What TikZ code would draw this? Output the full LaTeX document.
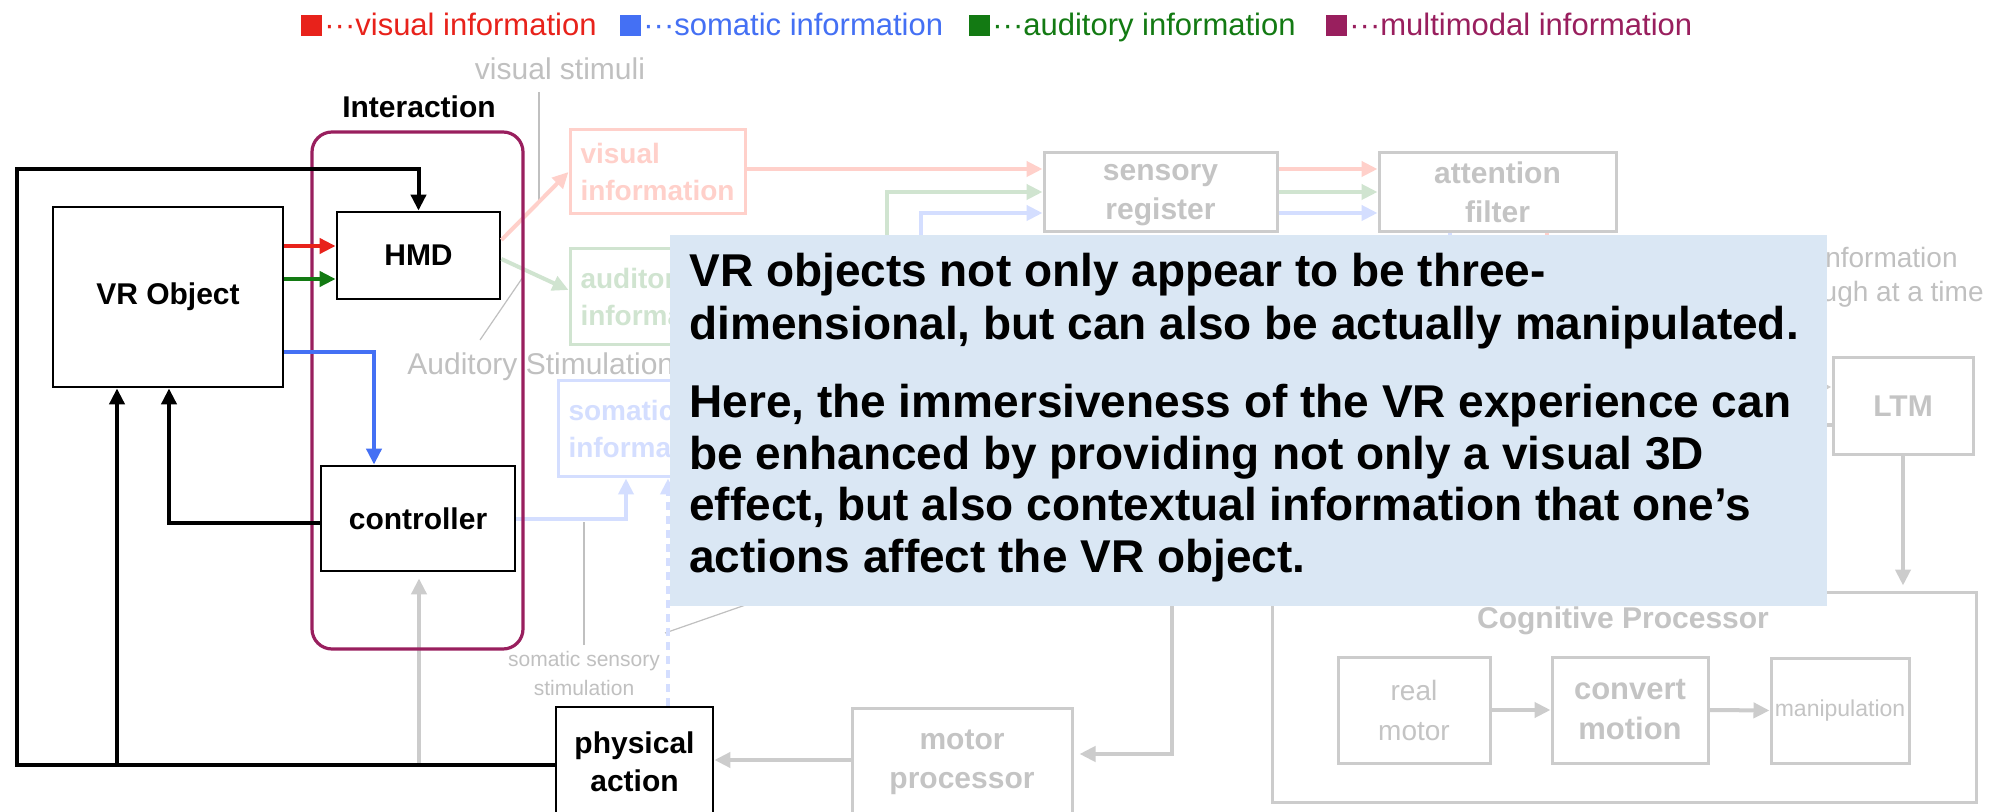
\documentclass[tikz,border=0pt]{standalone}
\usepackage{fontspec}
\setmainfont{Liberation Sans}
\usetikzlibrary{arrows.meta,calc}
\definecolor{vred}{HTML}{E8221B}
\definecolor{vblue}{HTML}{4470F4}
\definecolor{vgreen}{HTML}{137A13}
\definecolor{vpurple}{HTML}{991F5E}
\definecolor{pinkf}{HTML}{FFD0CA}
\definecolor{greenf}{HTML}{D0E4D0}
\definecolor{bluef}{HTML}{D4DEFF}
\definecolor{grayln}{HTML}{CCCCCC}
\definecolor{graytx}{HTML}{C4C4C4}
\definecolor{thinln}{HTML}{C0C0C0}
\definecolor{callfill}{HTML}{DAE7F4}
\begin{document}
\begin{tikzpicture}[x={(0.5pt,0)}, y={(0,-0.5pt)},
  >={Triangle[length=8pt,width=7.5pt]},
  blk/.style={draw=black, line width=1.4pt, inner sep=0pt, align=center,
    font=\bfseries\fontsize{15}{19}\selectfont},
  gbox/.style={draw=grayln, line width=1.5pt, inner sep=0pt, align=center,
    text=graytx, font=\bfseries\fontsize{15}{19.5}\selectfont},
  infobox/.style={line width=1.5pt, inner sep=0pt, align=left,
    font=\bfseries\fontsize{14}{18.5}\selectfont},
  sq/.style={minimum size=10.5pt, inner sep=0pt},
  lg/.style={inner sep=0pt, font=\fontsize{15.5}{18}\selectfont},
  glabel/.style={inner sep=0pt, text=thinln, font=\fontsize{15}{18}\selectfont},
  bconn/.style={line width=2pt, ->},
  fconn/.style={line width=2pt, ->},
  gconn/.style={line width=2pt, grayln, ->},
  thinl/.style={line width=0.6pt, thinln},
  ctext/.style={anchor=base west, inner sep=0pt, font=\bfseries\fontsize{23}{26}\selectfont}]
\clip (0,0) rectangle (2003,812);
\fill[white] (0,0) rectangle (2003,812);

% ---------- legend ----------
\node[sq, fill=vred] (sqv) at (311,25.5) {};
\node[lg, text=vred, anchor=base west] (lgv) at (324,36) {···visual information};
\node[sq, fill=vblue] (sqs) at (630.5,25.5) {};
\node[lg, text=vblue, anchor=base west] (lgs) at (643,36) {···somatic information};
\node[sq, fill=vgreen] (sqa) at (979.5,25.5) {};
\node[lg, text=vgreen, anchor=base west] (lga) at (992,36) {···auditory information};
\node[sq, fill=vpurple] (sqm) at (1336.5,25.5) {};
\node[lg, text=vpurple, anchor=base west] (lgm) at (1349,36) {···multimodal information};

% ---------- faded labels ----------
\node[glabel, anchor=base] (vstim) at (560,80) {visual stimuli};
\node[glabel, anchor=base west] (astim) at (407,375) {Auditory Stimulation};
\node[glabel, align=center, font=\fontsize{10.5}{14.5}\selectfont] (sstim) at (584,673) {somatic sensory\\stimulation};
\node[glabel, anchor=base east, font=\fontsize{14}{17}\selectfont] (inf1) at (1958,268) {information};
\node[glabel, anchor=base east, font=\fontsize{14}{17}\selectfont] (inf2) at (1984,302) {through at a time};

\coordinate (vs1) at (539,92);
\coordinate (vs2) at (539,204);
\draw[thinl] (vs1) -- (vs2);
\coordinate (as1) at (480,340);
\coordinate (as2) at (523,277);
\draw[thinl] (as1) -- (as2);
\coordinate (ss1) at (584,645);
\coordinate (ss2) at (584,522);
\draw[thinl] (ss1) -- (ss2);
\coordinate (dg1) at (665,633);
\coordinate (dg2) at (780,593);
\draw[thinl] (dg1) -- (dg2);

% ---------- black boxes ----------
\node[blk, minimum width=115pt, minimum height=90pt] (vro) at (168,297) {VR Object};
\node[blk, minimum width=81.5pt, minimum height=43.5pt] (hmd) at (418.5,255.5) {HMD};
\node[blk, minimum width=97pt, minimum height=52.5pt] (ctrl) at (418,518.5) {controller};
\node[blk, minimum width=78.5pt, minimum height=54.5pt] (phys) at (634.5,761.5) {physical\\action};

% ---------- faded boxes ----------
\node[infobox, draw=pinkf, text=pinkf, minimum width=87.5pt, minimum height=42pt] (visinfo) at (657.5,172) {visual\\information};
\node[infobox, draw=greenf, text=greenf, minimum width=87.5pt, minimum height=48pt] (audinfo) at (657.5,297) {auditory\\information};
\node[infobox, draw=bluef, text=bluef, minimum width=87.5pt, minimum height=48pt] (sominfo) at (645.5,429) {somatic\\information};
\node[gbox, minimum width=116.5pt, minimum height=39.5pt] (sensreg) at (1160.5,192.5) {\vphantom{l}sensory\\register};
\node[gbox, minimum width=118.5pt, minimum height=39.5pt] (attfilt) at (1497.5,192.5) {attention\\filter};
\node[gbox, minimum width=70pt, minimum height=48.5pt] (ltm) at (1903,406.5) {LTM};
\node[gbox, minimum width=352pt, minimum height=105pt] (cog) at (1624,697) {};
\node[inner sep=0pt, anchor=base, text=graytx, font=\bfseries\fontsize{15}{18}\selectfont] (coglbl) at (1623,628) {Cognitive Processor};
\node[gbox, font=\fontsize{14}{20}\selectfont, minimum width=76pt, minimum height=53pt] (realm) at (1414,710) {real\\motor};
\node[gbox, font=\bfseries\fontsize{15.5}{20}\selectfont, minimum width=78pt, minimum height=53pt] (convm) at (1630,710) {convert\\motion};
\node[gbox, font=\fontsize{11.5}{14}\selectfont, minimum width=69pt, minimum height=52.5pt] (manip) at (1840,710.5) {manipulation};
\node[gbox, minimum width=110pt, minimum height=54pt] (motor) at (962,762) {motor\\processor};

% ---------- faded connectors ----------
\coordinate (ya) at (0,240);
\coordinate (yb) at (0,259);
\coordinate (yc) at (0,290);
\draw[fconn, pinkf] (hmd.east |- ya) -- (visinfo.west);
\draw[fconn, greenf] (hmd.east |- yb) -- (audinfo.west |- yc);
\coordinate (ys1) at (0,169);
\coordinate (ys2) at (0,192);
\coordinate (ys3) at (0,213);
\coordinate (xg1) at (887,0);
\coordinate (xb1) at (921,0);
\draw[fconn, pinkf] (visinfo.east |- ys1) -- (sensreg.west |- ys1);
\draw[fconn, greenf] (audinfo.east) -- (xg1 |- audinfo.east) -- (xg1 |- ys2) -- (sensreg.west |- ys2);
\draw[fconn, bluef] (sominfo.east) -- (xb1 |- sominfo.east) -- (xb1 |- ys3) -- (sensreg.west |- ys3);
\draw[fconn, pinkf] (sensreg.east |- ys1) -- (attfilt.west |- ys1);
\draw[fconn, greenf] (sensreg.east |- ys2) -- (attfilt.west |- ys2);
\draw[fconn, bluef] (sensreg.east |- ys3) -- (attfilt.west |- ys3);
\coordinate (xa1) at (1450,300);
\coordinate (xa2) at (1547,300);
\draw[line width=2pt, bluef] (attfilt.south -| xa1) -- (xa1);
\draw[line width=2pt, pinkf] (attfilt.south -| xa2) -- (xa2);

\coordinate (ysm) at (0,519);
\coordinate (xs1) at (626,0);
\coordinate (xd) at (668,0);
\coordinate (ym) at (0,760);
\coordinate (ym2) at (0,754);
\coordinate (mv) at (1172,560);
\coordinate (xl) at (1790,0);
\coordinate (yl1) at (0,387);
\coordinate (yl2) at (0,425);
\draw[fconn, bluef] (ctrl.east |- ysm) -- (xs1 |- ysm) -- (xs1 |- sominfo.south);
\draw[fconn, bluef, dash pattern=on 4pt off 3pt] (phys.north -| xd) -- (xd |- sominfo.south);
\draw[gconn] (motor.west |- ym) -- (phys.east |- ym);
\draw[gconn, shorten >=3pt] (mv) -- (mv |- ym2) -- (motor.east |- ym2);
\draw[gconn] (xl |- yl1) -- (ltm.west |- yl1);
\draw[gconn] (ltm.west |- yl2) -- (xl |- yl2);
\draw[gconn, shorten >=2.5pt] (ltm.south) -- (cog.north -| ltm.south);
\draw[gconn] (realm.east) -- (convm.west);
\draw[gconn] (convm.east) -- (manip.west);

\coordinate (bl) at (17,765);
\coordinate (tl) at (17,169);
\coordinate (xg) at (419,0);
\draw[gconn, shorten >=3pt] (xg |- bl) -- (xg |- ctrl.south);

% ---------- interaction frame ----------
\node[draw=vpurple, line width=1.6pt, rounded corners=10pt, inner sep=0pt, minimum width=105.5pt, minimum height=258.5pt] (inter) at (417.5,390.5) {};
\node[anchor=base, inner sep=0pt, font=\bfseries\fontsize{15}{18}\selectfont] (interlbl) at (419,118) {Interaction};

% ---------- black / coloured connectors ----------
\coordinate (j1) at (117,765);
\coordinate (j2) at (169,523);
\coordinate (yr) at (0,246);
\coordinate (yg) at (0,279);
\coordinate (yb2) at (0,352);
\coordinate (xb) at (374,0);
\draw[bconn] (phys.west |- bl) -- (bl) -- (tl) -- (tl -| hmd.north) -- (hmd.north);
\draw[bconn] (j1) -- (j1 |- vro.south);
\draw[bconn] (ctrl.west |- j2) -- (j2) -- (j2 |- vro.south);
\draw[bconn, vred] (vro.east |- yr) -- (hmd.west |- yr);
\draw[bconn, vgreen] (vro.east |- yg) -- (hmd.west |- yg);
\draw[bconn, vblue] (vro.east |- yb2) -- (xb |- yb2) -- (xb |- ctrl.north);

% ---------- callout ----------
\node[fill=callfill, inner sep=0pt, minimum width=578.5pt, minimum height=185.5pt] (callout) at (1248.5,420.5) {};
\node[ctext] (l1) at (689,287) {VR objects not only appear to be three-};
\node[ctext] (l2) at (689,340) {dimensional, but can also be actually manipulated.};
\node[ctext] (l3) at (689,418) {Here, the immersiveness of the VR experience can};
\node[ctext] (l4) at (689,470) {be enhanced by providing not only a visual 3D};
\node[ctext] (l5) at (689,521) {effect, but also contextual information that one’s};
\node[ctext] (l6) at (689,573) {actions affect the VR object.};
\end{tikzpicture}
\end{document}
